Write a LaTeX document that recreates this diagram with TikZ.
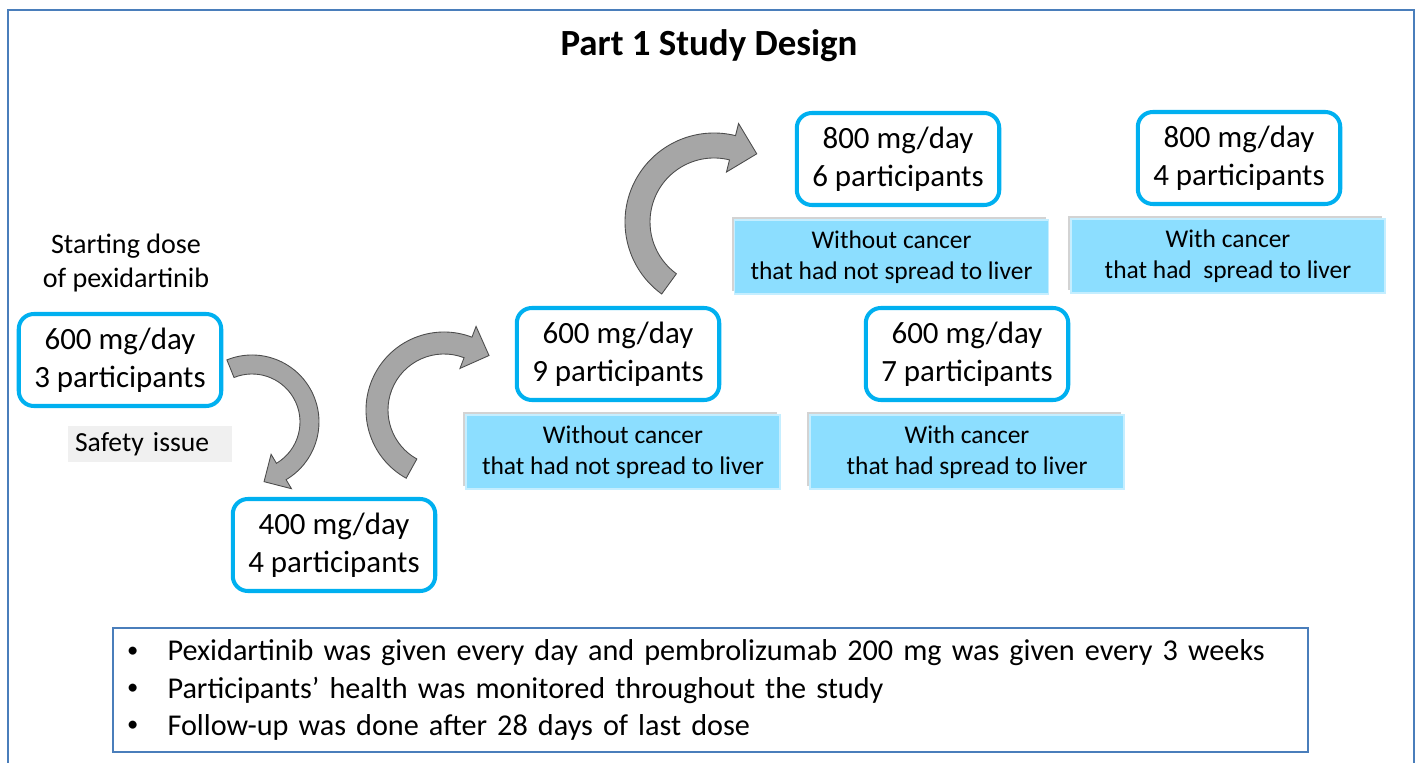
\documentclass[tikz,border=0pt]{standalone}
\usepackage{fontspec}
\setmainfont{Carlito}
\usetikzlibrary{positioning,calc,shadows}

\definecolor{dosecyan}{RGB}{0,176,240}
\definecolor{labelblue}{RGB}{140,222,255}
\definecolor{frameblue}{RGB}{74,126,187}

% curved block arrow: centre, mid radius, shaft width, start angle, end angle, head width
\newcommand{\bentarrow}[6]{%
  \pgfmathsetmacro\arcout{#2+#3/2}%
  \pgfmathsetmacro\arcin{#2-#3/2}%
  \pgfmathsetmacro\headout{#2+#6/2}%
  \pgfmathsetmacro\headin{#2-#6/2}%
  \pgfmathsetmacro\tipang{#5+atan(#6/(2*#2))}%
  \pgfmathsetmacro\tiprad{sqrt(#2*#2+#6*#6/4)}%
  \draw[bent] ($(#1)+(#4:\arcout)$) arc[start angle=#4, end angle=#5, radius=\arcout]
    -- ($(#1)+(#5:\headout)$) -- ($(#1)+(\tipang:\tiprad)$) -- ($(#1)+(#5:\headin)$)
    -- ($(#1)+(#5:\arcin)$) arc[start angle=#5, end angle=#4, radius=\arcin] -- cycle;
}
\newcommand{\notebullet}{\makebox[23pt][l]{\raisebox{0.12em}{\scalebox{0.75}{\textbullet}}}}

\begin{document}
\begin{tikzpicture}[
    x=0.02cm, y=-0.02cm,
    node distance=1.96cm,
    dosebox/.style={rectangle, rounded corners=0.3cm, draw=dosecyan, line width=2.3pt, fill=white, minimum width=4.05cm, minimum height=1.84cm, align=center, font=\fontsize{17.6}{21.5}\selectfont},
    groupbox/.style={rectangle, fill=labelblue, draw=labelblue!50!white, line width=1pt, minimum width=6.28cm, minimum height=1.48cm, align=center, font=\fontsize{14.5}{17.6}\selectfont, drop shadow={shadow xshift=-1.5pt, shadow yshift=1.5pt, opacity=0.35}},
    bent/.style={fill=gray!70, draw=black!70, line width=0.5pt}
]
    \useasboundingbox (0,0) rectangle (1419,763);

    % Frame
    \draw[frameblue, line width=1.1pt] (8,763) -- (8,10) -- (1414,10) -- (1414,763);

    % Title
    \node[font=\fontsize{21}{25}\selectfont\bfseries] (title) at (709,46) {Part 1 Study Design};

    % Starting dose
    \node[align=center, font=\fontsize{16}{19.8}\selectfont] (startlbl) at (126,263) {Starting dose\\of pexidartinib};
    \node[dosebox] (start) at (120,360) {600 mg/day\\3 participants};
    \node[fill=gray!12, text width=3.0cm, inner xsep=0.14cm, minimum height=0.64cm, font=\fontsize{15.7}{19}\selectfont] (safety) at (150,444) {Safety issue};

    % Lower dose
    \node[dosebox] (lower) at (334,545) {400 mg/day\\4 participants};

    % Without liver spread
    \node[dosebox] (nospread600) at (618,354) {600 mg/day\\9 participants};
    \node[groupbox, below of=nospread600, xshift=0.1cm] (nospread600lbl) {Without cancer\\that had not spread to liver};
    \node[dosebox] (nospread800) at (898,159) {800 mg/day\\6 participants};
    \node[groupbox, below of=nospread800, xshift=-0.13cm] (nospread800lbl) {Without cancer\\that had not spread to liver};

    % With liver spread
    \node[dosebox] (spread800) at (1239,158) {800 mg/day\\4 participants};
    \node[groupbox, below of=spread800, xshift=-0.22cm] (spread800lbl) {With cancer\\that had~ spread to liver};
    \node[dosebox] (spread600) at (967,354) {600 mg/day\\7 participants};
    \node[groupbox, below of=spread600] (spread600lbl) {With cancer\\that had spread to liver};

    % Arrows
    \coordinate (turn1) at (252,422);
    \coordinate (turn2) at (444,410);
    \coordinate (turn3) at (714,222);
    \bentarrow{turn1}{57.5}{19}{-112}{59.4}{40}
    \bentarrow{turn2}{67}{22}{119}{291}{45}
    \bentarrow{turn3}{76.5}{25}{126}{284}{50}

    % Notes
    \node[draw=frameblue, line width=0.8pt, minimum height=2.48cm, text width=23.34cm, inner xsep=0.28cm, align=left, font=\fontsize{17.2}{21.3}\selectfont] (notes) at (710.5,690) {\notebullet Pexidartinib was given every day and pembrolizumab 200 mg was given every 3 weeks\\
      \notebullet Participants’ health was monitored throughout the study\\
      \notebullet Follow-up was done after 28 days of last dose};

\end{tikzpicture}
\end{document}
